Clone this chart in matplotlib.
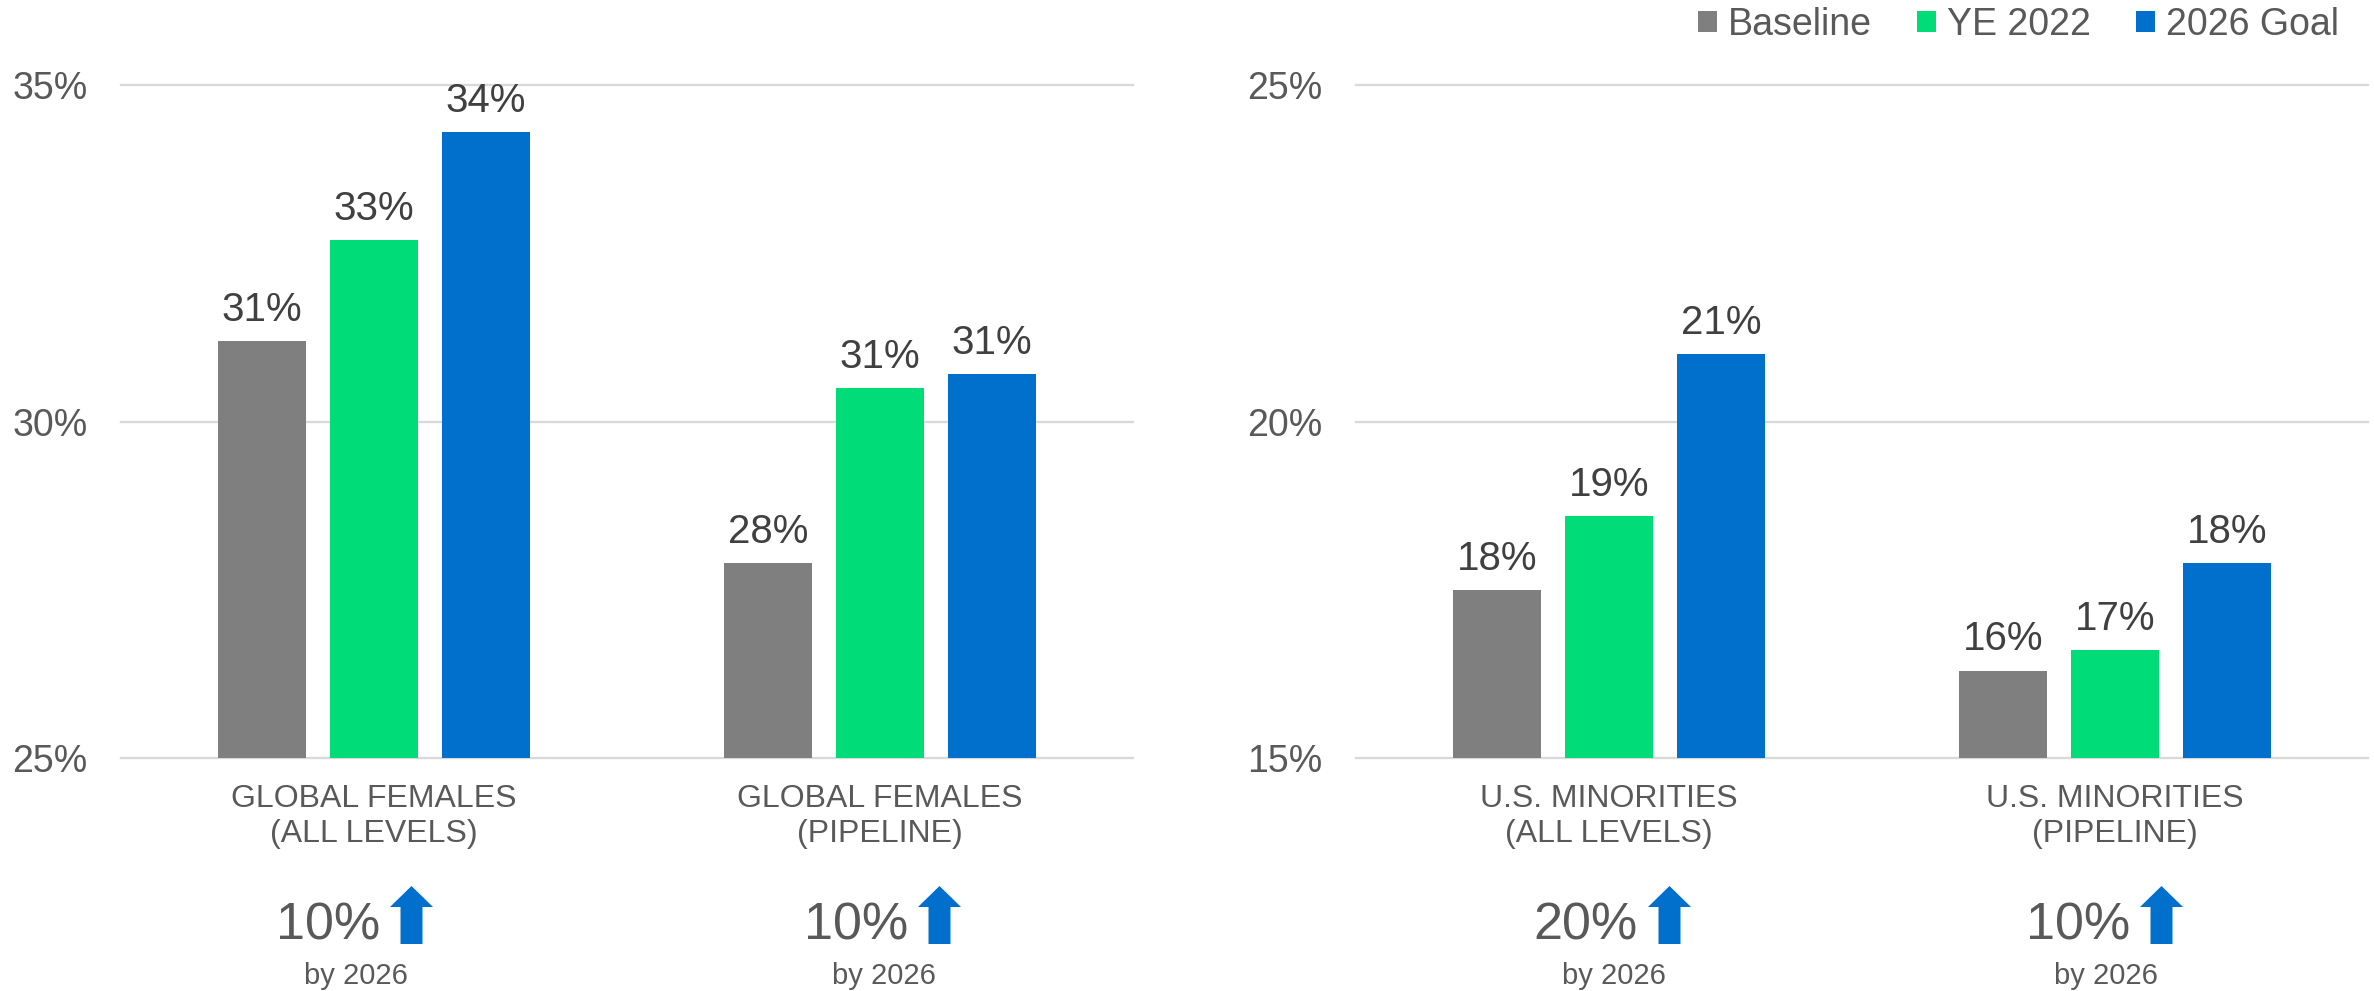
import matplotlib
matplotlib.use("Agg")
import matplotlib.pyplot as plt
from matplotlib.patches import Patch, Polygon
import numpy as np

plt.rcParams['font.family'] = ['Liberation Sans', 'DejaVu Sans']

W, H = 2374, 991

# ---------------- data ----------------
series = ["Baseline", "YE 2022", "2026 Goal"]
colors = ["#7F7F7F", "#00DC78", "#0070CC"]

left_categories = ["GLOBAL FEMALES\n(ALL LEVELS)", "GLOBAL FEMALES\n(PIPELINE)"]
left_baseline = [31.2, 27.9]
left_ye2022 = [32.7, 30.5]
left_goal = [34.3, 30.7]
left_baseline_labels = ["31%", "28%"]
left_ye2022_labels = ["33%", "31%"]
left_goal_labels = ["34%", "31%"]
left_yticks = [25, 30, 35]

right_categories = ["U.S. MINORITIES\n(ALL LEVELS)", "U.S. MINORITIES\n(PIPELINE)"]
right_baseline = [17.5, 16.3]
right_ye2022 = [18.6, 16.6]
right_goal = [21.0, 17.9]
right_baseline_labels = ["18%", "16%"]
right_ye2022_labels = ["19%", "17%"]
right_goal_labels = ["21%", "18%"]
right_yticks = [15, 20, 25]

increase_labels = ["10%", "10%", "20%", "10%"]
increase_sub = "by 2026"

# ---------------- figure ----------------
fig = plt.figure(figsize=(W / 100, H / 100), dpi=100)

def px_axes(x0, x1, ytop, ybot):
    return fig.add_axes([x0 / W, 1 - ybot / H, (x1 - x0) / W, (ybot - ytop) / H])

ax_l = px_axes(121, 1133, 85, 758)
ax_r = px_axes(1356, 2368, 85, 758)

TXT = "#595959"
LBL = "#404040"

def draw_panel(ax, cats, vals, labs, yticks):
    x = np.arange(len(cats))
    width = 0.174
    step = 0.2213
    for i, (v, lb) in enumerate(zip(vals, labs)):
        xs = x + (i - 1) * step
        ax.bar(xs, v, width=width, color=colors[i], zorder=2)
        for xi, vi, t in zip(xs, v, lb):
            ax.annotate(t, (xi, vi), xytext=(0, 14.5), textcoords="offset points",
                        ha="center", va="baseline", fontsize=29, color=LBL)
    ax.set_xlim(-0.5, 1.5)
    ax.set_ylim(yticks[0], yticks[-1])
    ax.set_yticks(yticks)
    ax.set_yticklabels([f"{t}%" for t in yticks])
    ax.set_xticks(x)
    ax.set_xticklabels(cats, fontsize=23, color=TXT, linespacing=1.22)
    ax.tick_params(axis="y", length=0, pad=24, labelsize=27, labelcolor=TXT)
    ax.tick_params(axis="x", length=0, pad=19)
    for s in ax.spines.values():
        s.set_visible(False)
    ax.yaxis.grid(True, color="#D9D9D9", lw=1.7)
    ax.set_axisbelow(True)
    for gl in ax.get_ygridlines():
        gl.set_clip_on(False)

draw_panel(ax_l, left_categories, [left_baseline, left_ye2022, left_goal],
           [left_baseline_labels, left_ye2022_labels, left_goal_labels], left_yticks)
draw_panel(ax_r, right_categories, [right_baseline, right_ye2022, right_goal],
           [right_baseline_labels, right_ye2022_labels, right_goal_labels], right_yticks)

# ---------------- bottom annotations ----------------
centers = [356, 884, 1614, 2106]
for cx, pct in zip(centers, increase_labels):
    fig.text((cx + 24) / W, 1 - 940 / H, pct, ha="right", va="baseline",
             fontsize=37.5, color=TXT)
    fig.text(cx / W, 1 - 984 / H, increase_sub, ha="center", va="baseline",
             fontsize=21, color=TXT)
    l = cx + 34
    hw, sw = 43, 22
    tip, base, bot = 886, 907, 944
    sl = l + (hw - sw) / 2
    pts = [(l, base), (l + hw / 2, tip), (l + hw, base), (sl + sw, base),
           (sl + sw, bot), (sl, bot), (sl, base)]
    pts = [(px / W, 1 - py / H) for px, py in pts]
    fig.patches.append(Polygon(pts, closed=True, transform=fig.transFigure,
                               facecolor="#0070CC", edgecolor="none"))

# ---------------- legend ----------------
handles = [Patch(facecolor=c, edgecolor="none") for c in colors]
fig.legend(handles, series, loc="upper right", bbox_to_anchor=(2339 / W, 1 - 7 / H),
           ncol=3, frameon=False, fontsize=27, handlelength=0.5, handleheight=0.5,
           handletextpad=0.3, columnspacing=1.2, borderpad=0, borderaxespad=0,
           labelcolor=TXT)

fig.savefig("out.png", dpi=100)
